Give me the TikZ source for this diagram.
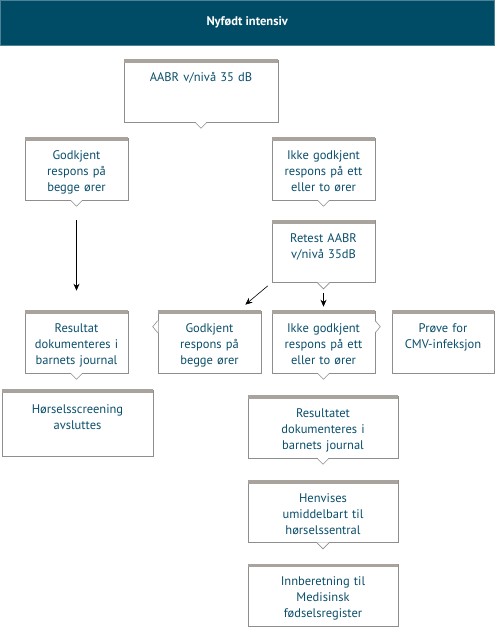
\documentclass[tikz,border=0pt]{standalone}
\usepackage{fontspec}
\setmainfont{PT Sans}
\usetikzlibrary{arrows.meta,positioning}

\definecolor{hode}{HTML}{004C66}
\definecolor{tekst}{HTML}{0B4F6C}
\definecolor{kant}{HTML}{8E8E8E}
\definecolor{toppfarge}{HTML}{A9A39E}

% text block, top aligned in the box
\newcommand{\boksinnhold}[1]{\parbox[t][44pt][t]{\linewidth}{\centering\rule{0pt}{12.5pt}#1}}

\tikzset{
  boks/.style={rectangle, draw=kant, line width=0.6pt, fill=white,
    minimum height=62pt, inner xsep=2pt, inner ysep=9pt,
    text width=#1-4pt, text=tekst, font=\fontsize{12.5}{16}\selectfont},
  boks/.default=103pt,
  toppstrek/.style={fill=toppfarge},
  kantstrek/.style={draw=kant, line width=0.6pt},
  pil/.style={-{Stealth[length=7pt,width=6pt]}, line width=0.6pt, black},
}

% grey bar along the top of a box
\newcommand{\toppbjelke}[1]{%
  \path[toppstrek] ([yshift=0.3pt]#1.north west) rectangle ([yshift=-3.3pt]#1.north east);}
% pointer notches on the box outline
\newcommand{\hakened}[1]{%
  \fill[white] ([xshift=-6pt,yshift=0.6pt]#1.south) -- ([yshift=-6pt]#1.south) -- ([xshift=6pt,yshift=0.6pt]#1.south) -- cycle;
  \path[kantstrek] ([xshift=-6pt]#1.south) -- ([yshift=-6pt]#1.south) -- ([xshift=6pt]#1.south);}
\newcommand{\hakevenstre}[1]{%
  \fill[white] ([xshift=0.6pt,yshift=-10pt]#1.north west) -- ([xshift=-5pt,yshift=-16pt]#1.north west) -- ([xshift=0.6pt,yshift=-22pt]#1.north west) -- cycle;
  \path[kantstrek] ([yshift=-10pt]#1.north west) -- ([xshift=-5pt,yshift=-16pt]#1.north west) -- ([yshift=-22pt]#1.north west);}
\newcommand{\hakehoyre}[1]{%
  \fill[white] ([xshift=-0.6pt,yshift=-10pt]#1.north east) -- ([xshift=5pt,yshift=-16pt]#1.north east) -- ([xshift=-0.6pt,yshift=-22pt]#1.north east) -- cycle;
  \path[kantstrek] ([yshift=-10pt]#1.north east) -- ([xshift=5pt,yshift=-16pt]#1.north east) -- ([yshift=-22pt]#1.north east);}

\begin{document}
\begin{tikzpicture}[x=1pt, y=-1pt]
  \useasboundingbox (0,0) rectangle (496,628);

  % header
  \node[fill=hode, draw=hode!70, minimum width=494pt, minimum height=45pt,
    text=white, font=\bfseries\fontsize{12.5}{15}\selectfont, anchor=north west] (hode) at (0,0) {Nyfødt intensiv};

  % first screening
  \node[boks=154pt] (aabr) at (201,91) {\boksinnhold{AABR v/nivå 35 dB}};
  \node[boks] (godA) at (76.5,169) {\boksinnhold{Godkjent\\respons på\\begge ører}};
  \node[boks] (ikkeA) at (323.5,169) {\boksinnhold{Ikke godkjent\\respons på ett\\eller to ører}};
  \node[boks, below=20pt of ikkeA] (retest) {\boksinnhold{Retest AABR\\v/nivå 35dB}};

  % second row
  \node[boks] (resA) at (76.5,342) {\boksinnhold{Resultat\\dokumenteres i\\barnets journal}};
  \node[boks] (godB) at (209.5,342) {\boksinnhold{Godkjent\\respons på\\begge ører}};
  \node[boks] (ikkeB) at (323.5,342) {\boksinnhold{Ikke godkjent\\respons på ett\\eller to ører}};
  \node[boks=102pt] (cmv) at (443,342) {\boksinnhold{Prøve for\\CMV-infeksjon}};
  \node[boks=151pt, minimum height=66pt] (slutt) at (77.5,423) {\boksinnhold{Hørselsscreening\\avsluttes}};

  % follow up column
  \node[boks=150pt] (resB) at (323,427) {\boksinnhold{Resultatet\\dokumenteres i\\barnets journal}};
  \node[boks=150pt, below=22pt of resB] (henv) {\boksinnhold{Henvises\\umiddelbart til\\hørselssentral}};
  \node[boks=150pt, below=21pt of henv] (innb) {\boksinnhold{Innberetning til\\Medisinsk\\fødselsregister}};

  \foreach \b in {aabr,godA,ikkeA,retest,resA,godB,ikkeB,cmv,slutt,resB,henv,innb}
    {\toppbjelke{\b}}
  \hakened{aabr} \hakened{godA} \hakened{ikkeA} \hakened{retest}
  \hakened{resA} \hakened{ikkeB} \hakened{resB} \hakened{henv}
  \hakevenstre{godB} \hakehoyre{ikkeB}

  % arrows
  \draw[pil, shorten <=20pt, shorten >=20pt] (godA.south) -- (resA.north);
  \draw[pil] ([xshift=-4pt,yshift=-3pt]retest.south west) -- ([xshift=-16pt,yshift=6pt]godB.north east);
  \draw[pil, shorten <=10pt, shorten >=4pt] (retest.south) -- (ikkeB.north);
\end{tikzpicture}
\end{document}
